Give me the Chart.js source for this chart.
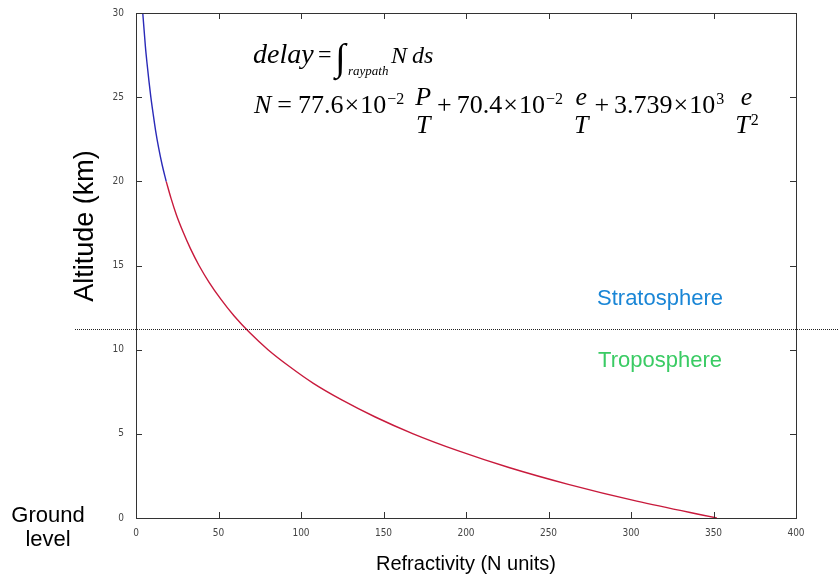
<!DOCTYPE html>
<html>
<head>
<meta charset="utf-8">
<script src="https://cdn.jsdelivr.net/npm/chart.js@4.4.1/dist/chart.umd.min.js"></script>
<style>
  body { margin: 0; background: #fff; }
  #wrap { width: 838px; height: 576px; }
</style>
</head>
<body>
<div id="wrap"><canvas id="refChart" width="838" height="576"></canvas></div>
<script>
// altitude (km) and refractivity (N units)
const altitudeKm = [0, 1, 2, 3, 4, 5, 6, 7, 8, 9, 10, 11, 12, 13, 14, 15, 16, 17, 18, 19, 20,
  21, 22, 23, 24, 25, 26, 27, 28, 29, 30]
const refractivityN = [352, 303.5, 262, 226, 195, 168, 145, 125, 107.5, 93, 80, 69, 59.5, 51.4, 44.3, 38.2, 33, 28.5, 24.5, 21.2, 18.3,
  15.8, 13.7, 11.9, 10.4, 9, 7.8, 6.7, 5.7, 4.9, 4.1]
const xTicks = [0, 50, 100, 150, 200, 250, 300, 350, 400]
const yTicks = [0, 5, 10, 15, 20, 25, 30]
const tropopauseKm = 11.25
const splitKm = 20 // above this the trace is blue

const serif = "'Liberation Serif', 'DejaVu Serif', serif"
const sans = "'Liberation Sans', Arial, sans-serif"
const tickFont = "'Liberation Sans Narrow', 'DejaVu Sans Condensed', sans-serif"

// ordered top-down so that x grows along each line
const points = altitudeKm.map((h, i) => ({ x: refractivityN[i], y: h })).reverse()
const lowerPart = points.filter((p) => p.y <= splitKm)
const upperPart = points.filter((p) => p.y >= splitKm)

// first formula line: text, x, baseline, font
const formulaTop = [
  ["delay", 253, 63, "italic 28px"],
  ["=", 318, 62, "24px"],
  ["\u222B", 335, 70, "38px"],
  ["raypath", 348, 75, "italic 13px"],
  ["N", 391, 63, "italic 24px"],
  ["ds", 412, 63, "italic 24px"],
]
// second formula line, laid out left to right
const formulaMain = [
  { t: "N", it: true }, { gap: 6 }, { t: "=" }, { gap: 6 },
  { t: "77.6" }, { gap: 1 }, { t: "\u00D7" }, { gap: 1 }, { t: "10" }, { gap: 1 }, { sup: "\u22122" }, { gap: 11 },
  { num: "P", den: "T" }, { gap: 6 }, { t: "+" }, { gap: 5 },
  { t: "70.4" }, { gap: 1 }, { t: "\u00D7" }, { gap: 1 }, { t: "10" }, { gap: 1 }, { sup: "\u22122" }, { gap: 11 },
  { num: "e", den: "T" }, { gap: 6 }, { t: "+" }, { gap: 5 },
  { t: "3.739" }, { gap: 1 }, { t: "\u00D7" }, { gap: 1 }, { t: "10" }, { gap: 1 }, { sup: "3" }, { gap: 11 },
  { num: "e", den: "T", denSup: "2" },
]

function drawFormula(ctx, items, x, base) {
  const big = (it) => (it ? "italic " : "") + "26px " + serif
  const small = "16px " + serif
  const put = (t, font, dx, dy) => {
    ctx.font = font
    ctx.fillText(t, x + dx, base + dy)
    return ctx.measureText(t).width
  }
  items.forEach((it) => {
    if (it.gap) x += it.gap
    else if (it.t) x += put(it.t, big(it.it), 0, 0)
    else if (it.sup) x += put(it.sup, small, 0, -9)
    else {
      ctx.font = big(true)
      const wn = ctx.measureText(it.num).width
      const wd0 = ctx.measureText(it.den).width
      ctx.font = small
      const ws = it.denSup ? ctx.measureText(it.denSup).width : 0
      const wd = wd0 + ws
      const w = Math.max(wn, wd)
      put(it.num, big(true), (w - wn) / 2, -8)
      put(it.den, big(true), (w - wd) / 2, 20)
      if (it.denSup) put(it.denSup, small, (w - wd) / 2 + wd0 + 1, 12)
      x += w
    }
  })
}

const decorations = {
  id: "decorations",
  afterDraw(chart) {
    const { ctx, chartArea: a, scales } = chart
    const xs = scales.x
    const ys = scales.y
    ctx.save()

    // box with inward ticks on every side
    ctx.strokeStyle = "#333"
    ctx.lineWidth = 1
    ctx.strokeRect(a.left + 0.5, a.top + 0.5, a.right - a.left, a.bottom - a.top)
    ctx.beginPath()
    xTicks.forEach((v) => {
      const px = Math.round(xs.getPixelForValue(v)) + 0.5
      ctx.moveTo(px, a.bottom); ctx.lineTo(px, a.bottom - 6)
      ctx.moveTo(px, a.top); ctx.lineTo(px, a.top + 6)
    })
    yTicks.forEach((v) => {
      const py = Math.round(ys.getPixelForValue(v)) + 0.5
      ctx.moveTo(a.left, py); ctx.lineTo(a.left + 6, py)
      ctx.moveTo(a.right, py); ctx.lineTo(a.right - 6, py)
    })
    ctx.stroke()

    // tropopause dotted line
    const ty = Math.round(ys.getPixelForValue(tropopauseKm)) + 0.5
    ctx.setLineDash([1, 1])
    ctx.strokeStyle = "#222"
    ctx.beginPath()
    ctx.moveTo(75, ty)
    ctx.lineTo(chart.width, ty)
    ctx.stroke()
    ctx.setLineDash([])

    // labels
    ctx.textBaseline = "middle"
    ctx.textAlign = "center"
    ctx.font = "22px " + sans
    ctx.fillStyle = "#1a86d6"
    ctx.fillText("Stratosphere", 660, ty - 31)
    ctx.fillStyle = "#3acb64"
    ctx.fillText("Troposphere", 660, ty + 31)

    ctx.fillStyle = "#000"
    ctx.font = "22px " + sans
    ctx.fillText("Ground", 48, 516)
    ctx.fillText("level", 48, 540)

    ctx.save()
    ctx.translate(86, 226)
    ctx.rotate(-Math.PI / 2)
    ctx.font = "27px " + sans
    ctx.fillText("Altitude (km)", 0, 0)
    ctx.restore()

    // formula
    ctx.textAlign = "left"
    ctx.textBaseline = "alphabetic"
    formulaTop.forEach(([t, x, y, f]) => {
      ctx.font = f + " " + serif
      ctx.fillText(t, x, y)
    })
    drawFormula(ctx, formulaMain, 254, 113)
    ctx.restore()
  },
}

new Chart(document.getElementById("refChart"), {
  type: "scatter",
  data: {
    datasets: [
      {
        data: upperPart,
        showLine: true,
        borderColor: "#2a2ab8",
        borderWidth: 1.4,
        pointRadius: 0,
        cubicInterpolationMode: "monotone",
      },
      {
        data: lowerPart,
        showLine: true,
        borderColor: "#c81a3c",
        borderWidth: 1.4,
        pointRadius: 0,
        cubicInterpolationMode: "monotone",
      },
    ],
  },
  options: {
    responsive: false,
    animation: false,
    layout: { padding: { left: 0, right: 42, top: 13, bottom: 0 } },
    plugins: { legend: { display: false }, tooltip: { enabled: false } },
    scales: {
      x: {
        type: "linear",
        min: 0,
        max: 400,
        afterBuildTicks: (s) => { s.ticks = xTicks.map((v) => ({ value: v })) },
        afterFit: (s) => { s.height = 58 },
        grid: { display: false },
        border: { display: false },
        ticks: { color: "#444", padding: 1, maxRotation: 0, font: { family: tickFont, size: 10 } },
        title: {
          display: true,
          text: "Refractivity (N units)",
          color: "#000",
          padding: { top: 0, bottom: 0 },
          font: { family: sans, size: 20 },
        },
      },
      y: {
        type: "linear",
        min: 0,
        max: 30,
        afterBuildTicks: (s) => { s.ticks = yTicks.map((v) => ({ value: v })) },
        afterFit: (s) => { s.width = 136 },
        grid: { display: false },
        border: { display: false },
        ticks: { color: "#444", padding: 4, font: { family: tickFont, size: 10 } },
      },
    },
  },
  plugins: [decorations],
})
</script>
</body>
</html>
